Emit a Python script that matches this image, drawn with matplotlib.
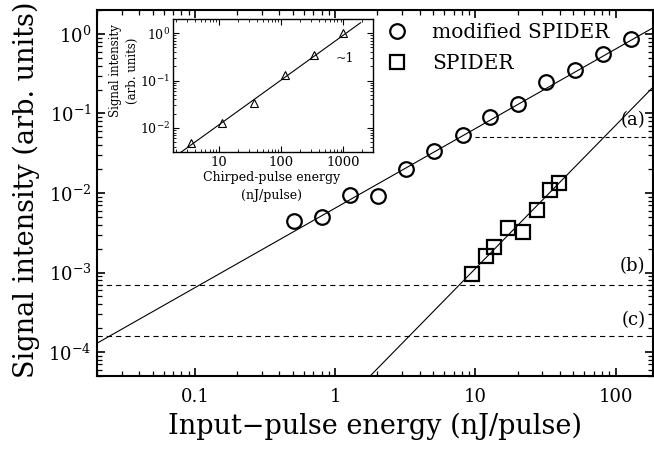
import numpy as np
import matplotlib
matplotlib.use("Agg")
import matplotlib.pyplot as plt
from matplotlib.lines import Line2D

plt.rcParams['font.family'] = ['DejaVu Serif']
plt.rcParams['mathtext.fontset'] = 'dejavuserif'
plt.rcParams['lines.scale_dashes'] = False

# ---- data ----
mod_x = [0.51, 0.81, 1.28, 2.03, 3.2, 5.1, 8.1, 12.8, 20.3, 32, 51, 81, 128]
mod_y = [4.5e-3, 5.0e-3, 9.4e-3, 9.2e-3, 0.020, 0.0335, 0.053, 0.089, 0.133, 0.25, 0.355, 0.56, 0.87]

spider_x = [9.5, 12.0, 13.5, 17.2, 21.7, 27.3, 34.3, 39.2]
spider_y = [9.5e-4, 1.6e-3, 2.1e-3, 3.6e-3, 3.2e-3, 6.2e-3, 0.011, 0.0135]

# fit lines: log10(y) = slope*log10(x) + offset
mod_fit = (1.0, -2.19)
spider_fit = (1.8, -4.75)

# thresholds
thr_a = 0.05
thr_a_start = 10
thr_b = 7.0e-4
thr_c = 1.6e-4
thr_labels = ['(a)', '(b)', '(c)']

# inset data
ins_x = [3.5, 11.2, 36, 114, 340, 1000]
ins_y = [4.8e-3, 0.0128, 0.034, 0.13, 0.34, 1.0]
ins_fit = (0.945, -0.04 - 0.945 * 3)

fig = plt.figure(figsize=(6.54, 4.49), dpi=100)
W, H = 654, 449
L, R, T, B = 97, 653, 10, 376
ax = fig.add_axes([L / W, (H - B) / H, (R - L) / W, (B - T) / H])
ax.set_xscale('log')
ax.set_yscale('log')
ax.set_xlim(0.02, 185)
ax.set_ylim(5e-5, 2)

xx = np.logspace(np.log10(0.02), np.log10(185), 200)
ax.plot(xx, 10 ** (mod_fit[0] * np.log10(xx) + mod_fit[1]), color='black', lw=0.8, zorder=2)
ax.plot(xx, 10 ** (spider_fit[0] * np.log10(xx) + spider_fit[1]), color='black', lw=0.8, zorder=2)

ax.plot(mod_x, mod_y, linestyle='none', marker='o', ms=10.5, mfc='none', mec='black', mew=1.6, zorder=3)
ax.plot(spider_x, spider_y, linestyle='none', marker='s', ms=10, mfc='none', mec='black', mew=1.6, zorder=3)

ax.plot([thr_a_start, 185], [thr_a, thr_a], color='black', lw=0.8, dashes=(3.0, 2.2))
ax.axhline(thr_b, color='black', lw=0.8, dashes=(3.8, 2.9))
ax.axhline(thr_c, color='black', lw=0.8, dashes=(3.8, 2.9))

ax.text(163, 0.083, thr_labels[0], ha='right', va='center', fontsize=13)
ax.text(163, 1.2e-3, thr_labels[1], ha='right', va='center', fontsize=13)
ax.text(163, 2.5e-4, thr_labels[2], ha='right', va='center', fontsize=13)

for s in ax.spines.values():
    s.set_linewidth(1.5)
ax.tick_params(which='both', direction='in', top=True, right=True)
ax.tick_params(which='major', length=6, width=1.2, labelsize=13)
ax.tick_params(which='minor', length=3.5, width=0.9)
ax.tick_params(axis='x', which='major', pad=9)
ax.tick_params(axis='y', which='major', pad=4)
ax.set_xticks([0.1, 1, 10, 100])
ax.set_xticklabels(['0.1', '1', '10', '100'])
ax.set_yticks([1e-4, 1e-3, 1e-2, 1e-1, 1])
ax.set_yticklabels([r'$10^{-4}$', r'$10^{-3}$', r'$10^{-2}$', r'$10^{-1}$', r'$10^{0}$'])

fig.text(375 / W, 1 - 426 / H, 'Input\u2212pulse energy (nJ/pulse)', ha='center', va='center', fontsize=19.5)
fig.text(26 / W, 1 - 190 / H, 'Signal intensity (arb. units)', ha='center', va='center', rotation=90, fontsize=19.5)

handles = [Line2D([], [], linestyle='none', marker='o', ms=10.5, mfc='none', mec='black', mew=1.6),
           Line2D([], [], linestyle='none', marker='s', ms=10, mfc='none', mec='black', mew=1.6)]
ax.legend(handles, ['modified SPIDER', 'SPIDER'], loc='upper left',
          bbox_to_anchor=((387 - L) / (R - L), (B - 23) / (B - T)), frameon=False,
          fontsize=14.5, handlelength=1.0, handletextpad=1.25, borderpad=0, borderaxespad=0,
          labelspacing=0.62)

# ---- inset ----
iL, iR, iT, iB = 173, 373, 19, 152
ins = fig.add_axes([iL / W, (H - iB) / H, (iR - iL) / W, (iB - iT) / H])
ins.set_xscale('log')
ins.set_yscale('log')
ins.set_xlim(1.8, 3000)
ins.set_ylim(3.1e-3, 2)
ix = np.logspace(np.log10(1.8), np.log10(1900), 100)
ins.plot(ix, 10 ** (ins_fit[0] * np.log10(ix) + ins_fit[1]), color='black', lw=0.8)
ins.plot(ins_x, ins_y, linestyle='none', marker='^', ms=6, mfc='none', mec='black', mew=0.8)
for s in ins.spines.values():
    s.set_linewidth(1.0)
ins.tick_params(which='both', direction='in', top=True, right=True)
ins.tick_params(which='major', length=4, width=0.8, labelsize=9.5, pad=3)
ins.tick_params(which='minor', length=2, width=0.6)
ins.tick_params(axis='y', which='major', labelsize=9, pad=2)
ins.set_xticks([10, 100, 1000])
ins.set_xticklabels(['10', '100', '1000'])
ins.set_yticks([1e-2, 1e-1, 1])
ins.set_yticklabels([r'$10^{-2}$', r'$10^{-1}$', r'$10^{0}$'])
ins.text(345 / W, 1 - 59 / H, '~1', transform=fig.transFigure, ha='center', va='center', fontsize=9)

fig.text(272 / W, 1 - 187 / H, 'Chirped-pulse energy\n(nJ/pulse)', ha='center', va='center',
         fontsize=9, linespacing=1.5)
fig.text(124 / W, 1 - 71 / H, 'Signal intensity\n(arb. units)', ha='center', va='center',
         rotation=90, fontsize=8.5, linespacing=1.3)

fig.savefig('out.png', dpi=100)
